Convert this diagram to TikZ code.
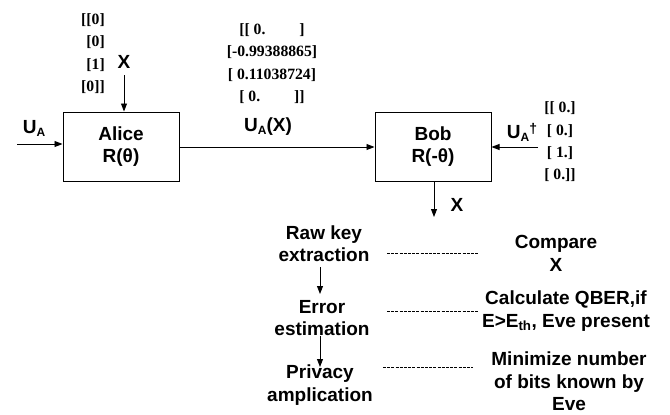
\documentclass[tikz,border=0pt]{standalone}
\usepackage{fontspec}
\setmainfont{Liberation Sans}
\newfontfamily\vecfont{Liberation Serif}
\usetikzlibrary{arrows.meta}
\newcommand{\subA}{\raisebox{-3pt}{\fontsize{12}{12}\selectfont A}}
\begin{document}
\begin{tikzpicture}[x=1pt,y=-1pt,
  lbl/.style={font=\fontsize{19}{22.3}\selectfont\bfseries, align=center, inner sep=0pt},
  vec/.style={font=\vecfont\fontsize{15.7}{22.3}\selectfont\bfseries, inner sep=0pt},
  box/.style={draw, line width=1pt, minimum width=116pt, minimum height=69pt, inner sep=0pt, font=\fontsize{19}{22.5}\selectfont\bfseries, align=center},
  arr/.style={-{Triangle[length=8pt,width=6pt]}, line width=0.9pt},
  dsh/.style={line width=0.7pt, dash pattern=on 3pt off 1.2pt}]
\useasboundingbox (0,0) rectangle (670,415);

% boxes
\node[box] (alice) at (121,146.5) {Alice\\R(θ)};
\node[box] (bob) at (433,146.5) {Bob\\R(-θ)};

% Alice inputs
\coordinate (uaL) at (17,144);
\draw[arr] (uaL) -- (uaL -| alice.west);
\node[lbl] (ua) at (34,128) {U\subA};
\coordinate (xtop) at (124,75);
\draw[arr] (xtop) -- (xtop |- alice.north);
\node[lbl] (xin) at (124,62) {X};
\node[vec, align=right] (v1) at (93,53.5) {[[0]\\{}[0]\\{}[1]\\{}[0]]};

% channel
\coordinate (mid) at (179,147);
\draw[arr] (alice.east |- mid) -- (bob.west |- mid);
\node[lbl] (uax) at (268,127) {U\subA(X)};
\node[vec, align=center] (v2) at (272,63.5) {[[ 0.\hspace{34pt}]\\{}[-0.99388865]\\{}[ 0.11038724]\\{}[ 0.\hspace{34pt}]]};

% Bob inputs
\coordinate (udR) at (538,147);
\draw[arr] (udR) -- (bob.east |- udR);
\node[lbl] (uad) at (522,132) {U\subA\raisebox{5pt}{\fontsize{14}{14}\selectfont †}};
\node[vec, align=center] (v3) at (560,142) {[[ 0.]\\{}[ 0.]\\{}[ 1.]\\{}[ 0.]]};

% Bob output
\coordinate (xout) at (434,217);
\draw[arr] (bob.south -| xout) -- (xout);
\node[lbl] (xo) at (457,205) {X};

% post-processing steps
\node[lbl] (raw) at (324,244) {Raw key\\extraction};
\node[lbl] (err) at (322,318) {Error\\estimation};
\node[lbl] (priv) at (320,385) {Privacy\\amplication};
\draw[arr] (320,267) -- (320,294);
\draw[arr] (320,336) -- (320,367);

% descriptions
\node[lbl] (cmp) at (556,253.5) {Compare\\X};
\node[lbl] (qber) at (566,311) {Calculate QBER,if\\E>E\textsubscript{th}, Eve present};
\node[lbl] (mini) at (569,381.5) {Minimize number\\of bits known by\\Eve};

\draw[dsh] (387,253) -- (479,253);
\draw[dsh] (387,311) -- (479,311);
\draw[dsh] (383,367) -- (473,367);
\end{tikzpicture}
\end{document}
